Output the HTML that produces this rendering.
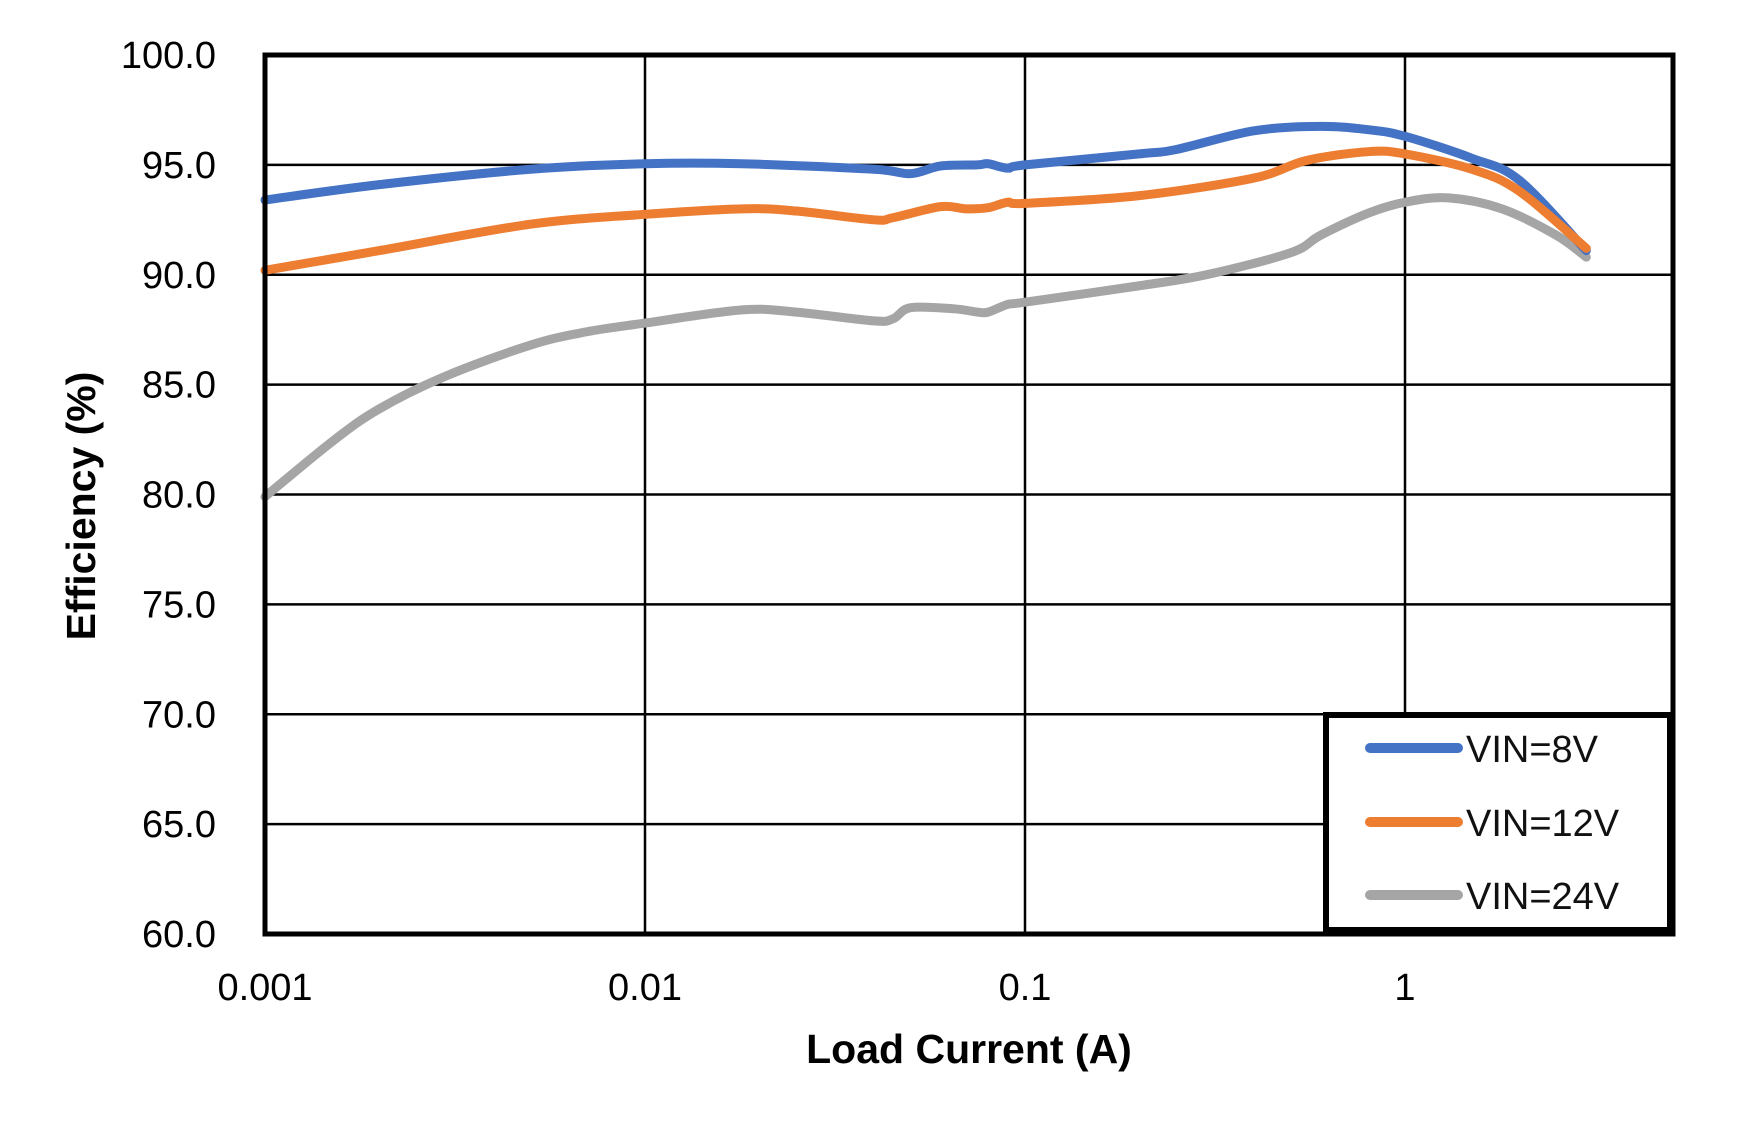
<!DOCTYPE html>
<html><head><meta charset="utf-8"><style>
html,body{margin:0;padding:0;background:#fff;}
svg{display:block;}
</style></head><body>
<svg id="chart" width="1760" height="1124" viewBox="0 0 1760 1124" xmlns="http://www.w3.org/2000/svg">
<g id="grid"></g>
<g id="series"></g>
<rect x="265" y="55" width="1408" height="879" fill="none" stroke="#000" stroke-width="5"/>
<g id="ylabels" font-family="Liberation Sans, sans-serif" font-size="38" text-anchor="end"></g>
<g id="xlabels" font-family="Liberation Sans, sans-serif" font-size="38" text-anchor="middle"></g>
<text x="0" y="0" transform="translate(95,506) rotate(-90)" font-family="Liberation Sans, sans-serif" font-weight="bold" font-size="41" text-anchor="middle">Efficiency (%)</text>
<text x="969" y="1063" font-family="Liberation Sans, sans-serif" font-weight="bold" font-size="41" text-anchor="middle">Load Current (A)</text>
<g>
<rect x="1326" y="715" width="344" height="215" fill="#fff" stroke="#000" stroke-width="6"/>
<line x1="1370" y1="748" x2="1458" y2="748" stroke="#4472C4" stroke-width="10" stroke-linecap="round"/>
<line x1="1370" y1="822" x2="1458" y2="822" stroke="#ED7D31" stroke-width="10" stroke-linecap="round"/>
<line x1="1370" y1="895" x2="1458" y2="895" stroke="#A5A5A5" stroke-width="10" stroke-linecap="round"/>
<g font-family="Liberation Sans, 'Noto Sans CJK SC', sans-serif" font-size="38" fill="#111">
<text x="1466" y="762">VIN=8V</text>
<text x="1466" y="836">VIN=12V</text>
<text x="1466" y="909">VIN=24V</text>
</g>
</g>
</svg>
<script>
const yTicks = [60,65,70,75,80,85,90,95,100];
const yTickLabels = ["60.0","65.0","70.0","75.0","80.0","85.0","90.0","95.0","100.0"];
const xTicks = [0.001,0.01,0.1,1];
const xTickLabels = ["0.001","0.01","0.1","1"];
const current8 = [0.001,0.002,0.005,0.01,0.018,0.04,0.05,0.06,0.075,0.08,0.09,0.1,0.2,0.25,0.4,0.6,0.8,1,1.5,2,3];
const eff8 = [93.4,94.1,94.8,95.05,95.05,94.8,94.6,94.95,95.0,95.05,94.85,95.0,95.5,95.7,96.55,96.75,96.6,96.3,95.3,94.3,91.1];
const current12 = [0.001,0.002,0.005,0.01,0.018,0.025,0.04,0.045,0.06,0.07,0.08,0.09,0.1,0.2,0.4,0.55,0.8,1,1.5,2,3];
const eff12 = [90.2,91.1,92.3,92.75,93.0,92.9,92.5,92.6,93.1,93.0,93.05,93.3,93.25,93.6,94.4,95.2,95.6,95.5,94.8,93.8,91.2];
const current24 = [0.001,0.0015,0.002,0.003,0.005,0.007,0.01,0.018,0.025,0.04,0.045,0.05,0.065,0.075,0.08,0.09,0.1,0.2,0.3,0.5,0.6,0.8,1,1.3,1.8,2.5,3];
const eff24 = [79.9,82.4,83.9,85.4,86.8,87.4,87.8,88.4,88.3,87.9,88.0,88.5,88.45,88.3,88.3,88.65,88.75,89.5,90.0,91.0,91.8,92.8,93.3,93.5,93.0,91.8,90.8];

const NS='http://www.w3.org/2000/svg';
const X0=265, DEC=380, Y0=934, YTOP=55, PR=1673;
function xScale(v){return X0+Math.log10(v/0.001)*DEC;}
function yScale(v){return Y0-(v-60)/40*(Y0-YTOP);}
function mk(tag,attrs,parent){const e=document.createElementNS(NS,tag);for(const k in attrs)e.setAttribute(k,attrs[k]);parent.appendChild(e);return e;}

const grid=document.getElementById('grid');
yTicks.forEach((t,i)=>{
  const l=mk('line',{x1:X0,x2:PR,y1:yScale(t),y2:yScale(t),stroke:'#000','stroke-width':2.5},grid);
  
  
  const tx=mk('text',{x:216,y:yScale(t)+13},document.getElementById('ylabels'));
  
  
  tx.textContent=yTickLabels[i];
});
xTicks.forEach((t,i)=>{
  const l=mk('line',{x1:xScale(t),x2:xScale(t),y1:YTOP,y2:Y0,stroke:'#000','stroke-width':2.5},grid);
  
  
  const tx=mk('text',{x:xScale(t),y:1000},document.getElementById('xlabels'));
  
  
  tx.textContent=xTickLabels[i];
});

function pathFor(xs,ys){
  const p=xs.map((x,i)=>[xScale(x),yScale(ys[i])]);
  let d='M'+p[0][0]+','+p[0][1];
  for(let i=0;i<p.length-1;i++){
    const p0=p[i-1]||p[i],p1=p[i],p2=p[i+1],p3=p[i+2]||p2;
    const c1=[p1[0]+(p2[0]-p0[0])/6,p1[1]+(p2[1]-p0[1])/6];
    const c2=[p2[0]-(p3[0]-p1[0])/6,p2[1]-(p3[1]-p1[1])/6];
    d+=' C'+c1[0]+','+c1[1]+' '+c2[0]+','+c2[1]+' '+p2[0]+','+p2[1];
  }
  return d;
}
const sg=document.getElementById('series');
const s24=mk('path',{d:pathFor(current24,eff24),fill:'none',stroke:'#A5A5A5','stroke-width':9,'stroke-linecap':'round','stroke-linejoin':'round'},sg);


const s8=mk('path',{d:pathFor(current8,eff8),fill:'none',stroke:'#4472C4','stroke-width':9,'stroke-linecap':'round','stroke-linejoin':'round'},sg);


const s12=mk('path',{d:pathFor(current12,eff12),fill:'none',stroke:'#ED7D31','stroke-width':9,'stroke-linecap':'round','stroke-linejoin':'round'},sg);


</script>
</body></html>
